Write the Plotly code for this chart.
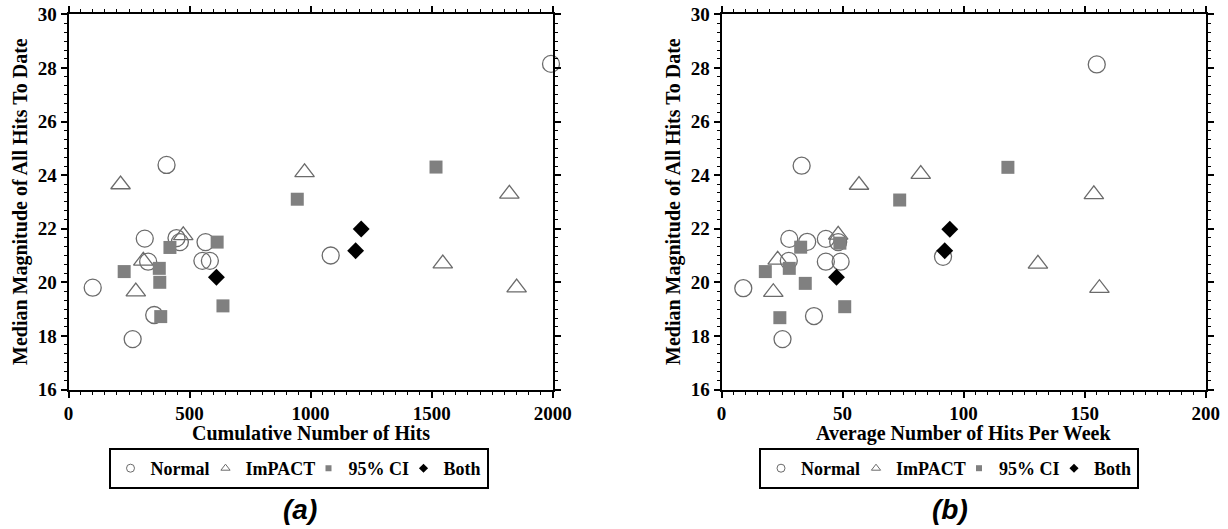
import plotly.graph_objects as go

# ---------------- data: panel (a) cumulative hits ----------------
a_normal_x = [100, 405, 315, 329, 446, 460, 566, 553, 584, 354, 265, 1083, 1993]
a_normal_y = [19.8, 24.38, 21.63, 20.77, 21.65, 21.5, 21.5, 20.8, 20.8, 18.78, 17.88, 21.0, 28.15]
a_impact_x = [215, 474, 309, 278, 975, 1821, 1546, 1851]
a_impact_y = [23.65, 21.75, 20.8, 19.65, 24.1, 23.3, 20.7, 19.8]
a_ci_x = [230, 375, 377, 419, 614, 381, 638, 945, 1518]
a_ci_y = [20.4, 20.52, 20.0, 21.3, 21.5, 18.72, 19.12, 23.1, 24.3]
a_both_x = [611, 1186, 1209]
a_both_y = [20.19, 21.18, 21.99]

# ---------------- data: panel (b) hits per week ----------------
b_normal_x = [9.0, 33.1, 28.0, 27.8, 35.4, 43.1, 48.2, 43.1, 49.2, 38.2, 25.2, 91.5, 155.0]
b_normal_y = [19.78, 24.35, 21.62, 20.8, 21.51, 21.62, 21.5, 20.77, 20.77, 18.74, 17.88, 20.95, 28.13]
b_impact_x = [21.4, 23.2, 56.8, 48.2, 82.3, 130.7, 153.8, 156.1]
b_impact_y = [19.63, 20.84, 23.63, 21.77, 24.04, 20.69, 23.28, 19.78]
b_ci_x = [18.1, 28.0, 32.7, 34.6, 24.1, 48.9, 50.9, 73.6, 118.3]
b_ci_y = [20.4, 20.52, 21.31, 19.96, 18.68, 21.46, 19.09, 23.07, 24.29]
b_both_x = [47.5, 92.2, 94.3]
b_both_y = [20.19, 21.18, 21.98]

series_names = ["Normal", "ImPACT", "95% CI", "Both"]
y_ticks = [16, 18, 20, 22, 24, 26, 28, 30]
a_x_ticks = [0, 500, 1000, 1500, 2000]
b_x_ticks = [0, 50, 100, 150, 200]

GRAY = "#6b6b6b"
SQ = "#808080"
SERIF = "Liberation Serif"

styles = {
    "Normal": dict(symbol="circle-open", size=17, color=GRAY, line=dict(width=1.3, color=GRAY)),
    "ImPACT": dict(symbol="triangle-up-open", size=17, color=GRAY, line=dict(width=1.3, color=GRAY)),
    "95% CI": dict(symbol="square", size=13, color=SQ, line=dict(width=0)),
    "Both": dict(symbol="diamond", size=13, color="black", line=dict(width=0)),
}
legend_styles = {
    "Normal": dict(symbol="circle-open", size=8, color=GRAY, line=dict(width=1, color=GRAY)),
    "ImPACT": dict(symbol="triangle-up-open", size=8, color=GRAY, line=dict(width=1, color=GRAY)),
    "95% CI": dict(symbol="square", size=6, color=SQ, line=dict(width=0)),
    "Both": dict(symbol="diamond", size=7, color="black", line=dict(width=0)),
}
# tighter legend entries (px) so the boxed legend is as compact as the original
legend_widths = {"Normal": 50, "ImPACT": 58, "95% CI": 50, "Both": None}

fig = go.Figure()

panel_a = [(a_normal_x, a_normal_y), (a_impact_x, a_impact_y), (a_ci_x, a_ci_y), (a_both_x, a_both_y)]
panel_b = [(b_normal_x, b_normal_y), (b_impact_x, b_impact_y), (b_ci_x, b_ci_y), (b_both_x, b_both_y)]

for name, (xs, ys) in zip(series_names, panel_a):
    fig.add_trace(go.Scatter(x=xs, y=ys, mode="markers", name=name, marker=styles[name],
                             xaxis="x", yaxis="y", showlegend=False, cliponaxis=False))
for name, (xs, ys) in zip(series_names, panel_b):
    fig.add_trace(go.Scatter(x=xs, y=ys, mode="markers", name=name, marker=styles[name],
                             xaxis="x2", yaxis="y2", showlegend=False, cliponaxis=False))

# legend entries (one legend per panel)
for leg, xa, ya in [("legend", "x", "y"), ("legend2", "x2", "y2")]:
    for name in series_names:
        tr = go.Scatter(x=[None], y=[None], mode="markers", name=name,
                        marker=legend_styles[name], xaxis=xa, yaxis=ya,
                        legend=leg, showlegend=True)
        if legend_widths[name]:
            tr.legendwidth = legend_widths[name]
        fig.add_trace(tr)

tickfont = dict(family=SERIF, size=19, color="black", weight="bold")
axis_common = dict(
    showline=True, linecolor="black", linewidth=2, mirror="ticks",
    ticks="outside", ticklen=6, tickwidth=2, tickcolor="black",
    showgrid=False, zeroline=False, tickfont=tickfont, automargin=False,
    minor=dict(ticks="outside", ticklen=3, tickwidth=1.2, tickcolor="black", showgrid=False),
)

W, H = 1228, 529
yd = [1 - 389.5 / H, 1 - 14.3 / H]

fig.update_layout(
    width=W, height=H,
    margin=dict(l=0, r=0, t=0, b=0),
    paper_bgcolor="white", plot_bgcolor="white",
    xaxis=dict(domain=[68.5 / W, 552.7 / W], range=[0, 2000], tickvals=a_x_ticks,
               anchor="y", **axis_common),
    yaxis=dict(domain=yd, range=[16, 30], tickvals=y_ticks, anchor="x", **axis_common),
    xaxis2=dict(domain=[721.5 / W, 1205.7 / W], range=[0, 200], tickvals=b_x_ticks,
                anchor="y2", **axis_common),
    yaxis2=dict(domain=yd, range=[16, 30], tickvals=y_ticks, anchor="x2", **axis_common),
)
fig.layout.xaxis.minor.tickvals = list(range(0, 2001, 50))
fig.layout.xaxis2.minor.tickvals = list(range(0, 201, 5))
y_minor = [16 + i / 3 for i in range(0, 43)]
fig.layout.yaxis.minor.tickvals = y_minor
fig.layout.yaxis2.minor.tickvals = y_minor

legend_common = dict(
    orientation="h", yanchor="top", xanchor="center", y=1 - 448 / H,
    bgcolor="white", bordercolor="black", borderwidth=2,
    font=dict(family=SERIF, size=18, color="black", weight="bold"),
    itemwidth=30, tracegroupgap=0,
)
fig.update_layout(
    legend=dict(x=298.5 / W, **legend_common),
    legend2=dict(x=949 / W, **legend_common),
)

title_font = dict(family=SERIF, size=20, color="black", weight="bold")
annots = [
    dict(text="Median Magnitude of All Hits To Date", x=20 / W, y=1 - 202 / H, textangle=-90, font=title_font),
    dict(text="Median Magnitude of All Hits To Date", x=673 / W, y=1 - 202 / H, textangle=-90, font=title_font),
    dict(text="Cumulative Number of Hits", x=310.6 / W, y=1 - 433 / H, font=title_font),
    dict(text="Average Number of Hits Per Week", x=963.6 / W, y=1 - 433 / H, font=title_font),
    dict(text="<b><i>(a)</i></b>", x=300 / W, y=1 - 509 / H,
         font=dict(family="Liberation Sans", size=28, color="black")),
    dict(text="<b><i>(b)</i></b>", x=950 / W, y=1 - 509 / H,
         font=dict(family="Liberation Sans", size=28, color="black")),
]
for a in annots:
    fig.add_annotation(xref="paper", yref="paper", showarrow=False,
                       xanchor="center", yanchor="middle", **a)

fig.write_html("out.html", config={"displayModeBar": False},
               post_script="document.body.style.margin='0';document.body.style.overflow='hidden';")
